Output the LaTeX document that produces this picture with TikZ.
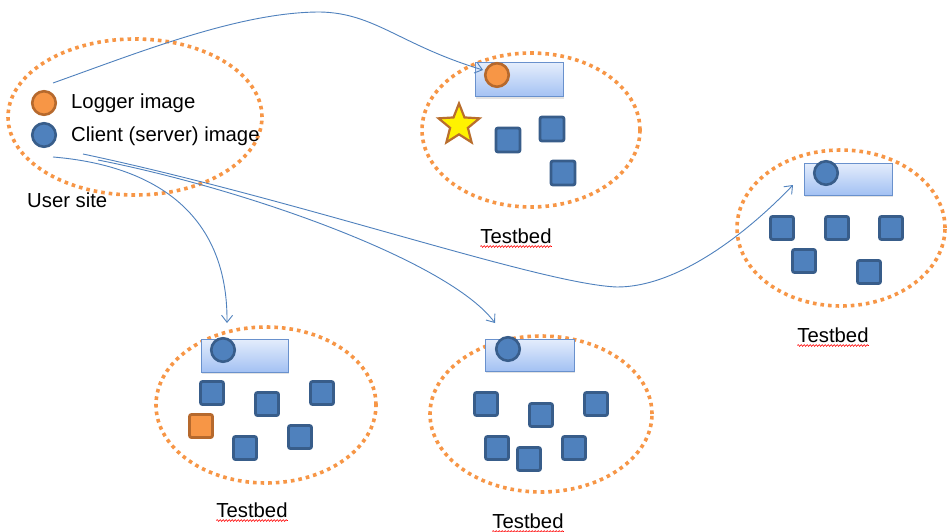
\documentclass[tikz,border=0pt]{standalone}
\usepackage{fontspec}
\setmainfont{Liberation Sans}
\usetikzlibrary{shapes.geometric,arrows.meta,decorations.pathmorphing,shadows}

\definecolor{dotorange}{RGB}{247,150,70}
\definecolor{linkblue}{RGB}{79,129,189}
\definecolor{boxblue}{RGB}{79,129,189}
\definecolor{boxedge}{RGB}{56,93,138}
\definecolor{ballorange}{RGB}{247,150,70}
\definecolor{balledge}{RGB}{182,105,45}
\definecolor{hosttop}{RGB}{228,237,252}
\definecolor{hostbot}{RGB}{163,193,243}
\definecolor{hostedge}{RGB}{105,145,205}
\definecolor{staredge}{RGB}{185,110,45}

\tikzset{
  site/.style={ellipse, draw=dotorange, line width=3.6pt,
    dash pattern=on 3.6pt off 4pt, inner sep=0pt},
  host/.style={rectangle, draw=hostedge, line width=1pt,
    top color=hosttop, bottom color=hostbot, inner sep=0pt,
    drop shadow={opacity=0.22, shadow xshift=1.2pt, shadow yshift=-1.6pt}},
  bluenode/.style={rectangle, rounded corners=2pt, fill=boxblue,
    draw=boxedge, line width=2.8pt, minimum size=23pt, inner sep=0pt},
  orangenode/.style={bluenode, fill=ballorange, draw=balledge},
  blueimg/.style={circle, fill=boxblue, draw=boxedge, line width=2.6pt,
    minimum size=23.5pt, inner sep=0pt},
  loggerimg/.style={blueimg, fill=ballorange, draw=balledge},
  lbl/.style={inner sep=0pt, font=\fontsize{20.3}{24}\selectfont},
  link/.style={draw=linkblue, line width=0.9pt,
    -{Straight Barb[length=7pt,width=11pt,line width=0.9pt]}},
  squiggle/.style={draw=red, line width=0.55pt,
    decorate, decoration={snake, amplitude=0.9pt, segment length=3pt}}
}

\begin{document}
\begin{tikzpicture}[x=1pt,y=-1pt]
\useasboundingbox[fill=white] (0,0) rectangle (947,532);

% ---- user site ----
\node[site, minimum width=254pt, minimum height=156pt] (user) at (135,117) {};
\node[loggerimg] (legL) at (44,103) {};
\node[blueimg] (legC) at (44,135) {};
\node[lbl, anchor=base west] (txtL) at (71,109) {Logger image};
\node[lbl, anchor=base west] (txtC) at (71,141) {Client (server) image};
\node[lbl, anchor=base west] (txtU) at (27,207) {User site};

% ---- testbed 1 (top) ----
\node[site, minimum width=218pt, minimum height=154pt] (tb1) at (531,130) {};
\node[host, minimum width=88pt, minimum height=34pt] (h1) at (519,80) {};
\node[loggerimg] (i1) at (497,75) {};
\node[star, star points=5, star point ratio=2.3, minimum size=43pt,
  fill=yellow, draw=staredge, line width=2.2pt, inner sep=0pt] (st) at (459,125) {};
\node[bluenode, minimum size=24pt] (s11) at (508,140) {};
\node[bluenode, minimum size=24pt] (s12) at (552,129) {};
\node[bluenode, minimum size=24pt] (s13) at (563,173) {};
\node[lbl, anchor=base] (t1) at (516,243) {Testbed};

% ---- testbed 2 (right) ----
\node[site, minimum width=208pt, minimum height=156pt] (tb2) at (841,228) {};
\node[host, minimum width=88pt, minimum height=32pt] (h2) at (848,179) {};
\node[blueimg] (i2) at (826,173) {};
\node[bluenode] (s21) at (782,228) {};
\node[bluenode] (s22) at (837,228) {};
\node[bluenode] (s23) at (891,228) {};
\node[bluenode] (s24) at (804,261) {};
\node[bluenode] (s25) at (869,272) {};
\node[lbl, anchor=base] (t2) at (833,342) {Testbed};

% ---- testbed 3 (bottom left) ----
\node[site, minimum width=220pt, minimum height=156pt] (tb3) at (266,405) {};
\node[host, minimum width=87pt, minimum height=33pt] (h3) at (244.5,355.5) {};
\node[blueimg] (i3) at (223,350) {};
\node[bluenode] (s31) at (212,393) {};
\node[bluenode] (s32) at (267,404) {};
\node[bluenode] (s33) at (322,393) {};
\node[orangenode] (s34) at (201,426) {};
\node[bluenode] (s35) at (245,448) {};
\node[bluenode] (s36) at (300,437) {};
\node[lbl, anchor=base] (t3) at (252,517) {Testbed};

% ---- testbed 4 (bottom middle) ----
\node[site, minimum width=222pt, minimum height=156pt] (tb4) at (541,414) {};
\node[host, minimum width=89pt, minimum height=32pt] (h4) at (529.5,355) {};
\node[blueimg] (i4) at (508,349) {};
\node[bluenode] (s41) at (486,404) {};
\node[bluenode] (s42) at (541,415) {};
\node[bluenode] (s43) at (596,404) {};
\node[bluenode] (s44) at (497,448) {};
\node[bluenode] (s45) at (529,459) {};
\node[bluenode] (s46) at (574,448) {};
\node[lbl, anchor=base] (t4) at (528,528) {Testbed};

% spell-check underlines
\foreach \t in {t1,t2,t3,t4}
  \draw[squiggle] ([yshift=-3.5pt]\t.base west) -- ([yshift=-3.5pt]\t.base east);

% ---- image transfers ----
\coordinate (o1) at (53,83);
\coordinate (o2) at (53,157);
\coordinate (o3) at (83,154);
\coordinate (o4) at (98,160);
\coordinate (e1) at (483,70);
\coordinate (e2) at (227,323);
\coordinate (e3) at (793,185);
\coordinate (e4) at (495,323);

\draw[link] (o1) .. controls (140,52) and (240,12) .. (320,12)
                 .. controls (375,13) and (400,45) .. (e1);
\draw[link] (o2) .. controls (150,165) and (228,210) .. (e2);
\draw[link] (o3) .. controls (300,200) and (540,284) .. (617,287)
                 .. controls (680,287) and (750,230) .. (e3);
\draw[link] (o4) .. controls (250,190) and (450,262) .. (e4);
\end{tikzpicture}
\end{document}
